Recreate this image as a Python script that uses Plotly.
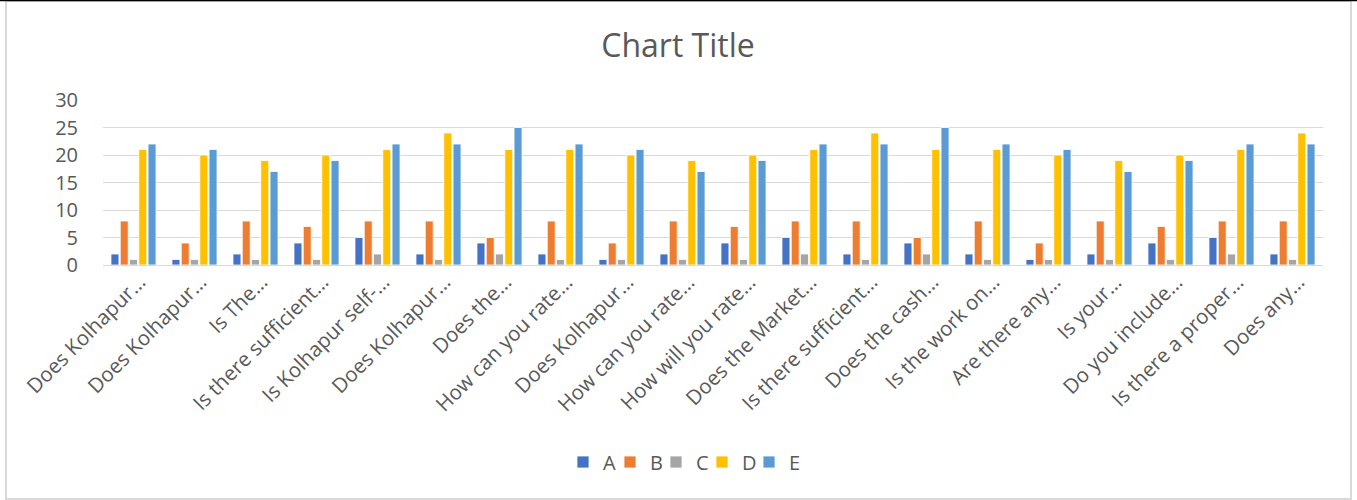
import plotly.graph_objects as go

labels = ["Does Kolhapur…", "Does Kolhapur…", "Is The…", "Is there sufficient…",
          "Is Kolhapur self-…", "Does Kolhapur…", "Does the…", "How can you rate…",
          "Does Kolhapur…", "How can you rate…", "How will you rate…", "Does the Market…",
          "Is there sufficient…", "Does the cash…", "Is the work on…", "Are there any…",
          "Is your…", "Do you include…", "Is there a proper…", "Does any…"]
positions = list(range(len(labels)))

A = [2, 1, 2, 4, 5, 2, 4, 2, 1, 2, 4, 5, 2, 4, 2, 1, 2, 4, 5, 2]
B = [8, 4, 8, 7, 8, 8, 5, 8, 4, 8, 7, 8, 8, 5, 8, 4, 8, 7, 8, 8]
C = [1, 1, 1, 1, 2, 1, 2, 1, 1, 1, 1, 2, 1, 2, 1, 1, 1, 1, 2, 1]
D = [21, 20, 19, 20, 21, 24, 21, 21, 20, 19, 20, 21, 24, 21, 21, 20, 19, 20, 21, 24]
E = [22, 21, 17, 19, 22, 22, 25, 22, 21, 17, 19, 22, 22, 25, 22, 21, 17, 19, 22, 22]

series = [("A", A, "#4472C4"), ("B", B, "#ED7D31"), ("C", C, "#A5A5A5"),
          ("D", D, "#FFC000"), ("E", E, "#5B9BD5")]

FONT = "Open Sans"
GREY = "#595959"

W, H = 1357, 500
L, R, T, B_ = 103, 34, 100, 235
pw, ph = W - L - R, H - T - B_

def px(x):
    return (x - L) / pw

def py(y):
    return (H - B_ - y) / ph

# legend symbol centres (pixels) in the reference
legend_centres = [582, 629, 675, 721, 768]

fig = go.Figure()
legend_layouts = {}
for i, (name, vals, col) in enumerate(series):
    lg = "legend" if i == 0 else f"legend{i + 1}"
    fig.add_trace(go.Bar(x=positions, y=vals, name=name, legend=lg,
                         marker=dict(color=col, line=dict(color="white", width=0.8))))
    legend_layouts[lg] = dict(
        orientation="h", x=px(legend_centres[i] - 19), xanchor="left",
        y=py(462), yanchor="middle", bgcolor="rgba(0,0,0,0)",
        font=dict(family=FONT, size=20, color=GREY), itemwidth=30)

fig.update_layout(
    width=W, height=H,
    margin=dict(l=L, r=R, t=T, b=B_, autoexpand=False),
    paper_bgcolor="white", plot_bgcolor="white",
    barmode="group", bargap=0.24, bargroupgap=0.14,
    font=dict(family=FONT, color=GREY, size=20),
    title=dict(text="Chart Title", x=px(678), xanchor="center", xref="paper",
               y=1 - 46 / H, yanchor="middle",
               font=dict(family=FONT, size=32, color=GREY)),
    xaxis=dict(tickmode="array", tickvals=positions, ticktext=labels,
               tickangle=-45, showgrid=False, showline=True, linecolor="#D9D9D9",
               linewidth=1, ticks="", range=[-0.5, len(labels) - 0.5],
               ticklabelshift=6, ticklabelstandoff=-4,
               tickfont=dict(family=FONT, size=20.5, color=GREY)),
    yaxis=dict(range=[0, 30], dtick=5, showgrid=True, gridcolor="#D9D9D9",
               gridwidth=1, zeroline=False, showline=False,
               ticks="outside", ticklen=20, tickcolor="rgba(0,0,0,0)",
               tickfont=dict(family=FONT, size=20, color=GREY)),
    showlegend=True,
    **legend_layouts,
)

# chart-area border
fig.add_shape(type="rect", xref="paper", yref="paper",
              x0=px(6), x1=px(1351), y0=py(499), y1=py(1),
              line=dict(color="#D9D9D9", width=2), fillcolor="rgba(0,0,0,0)",
              layer="below")
fig.add_shape(type="line", xref="paper", yref="paper",
              x0=px(0), x1=px(W), y0=py(0.5), y1=py(0.5),
              line=dict(color="black", width=1.5))

fig.write_html("out.html")
